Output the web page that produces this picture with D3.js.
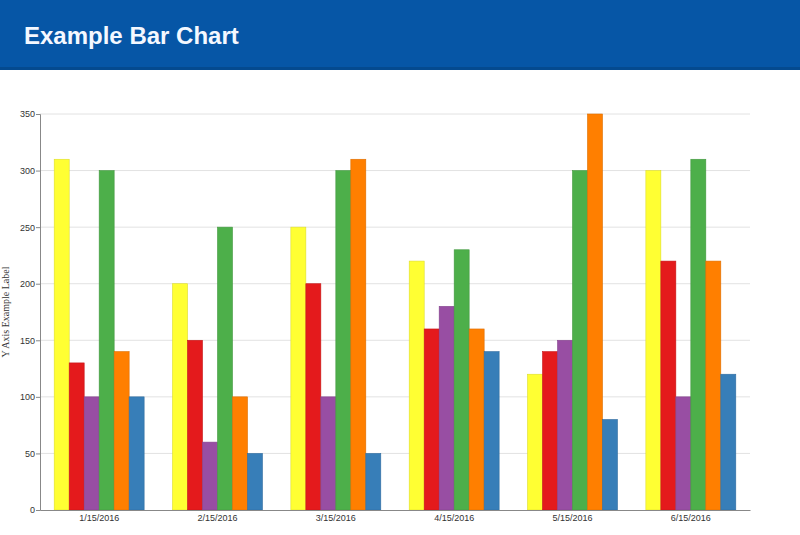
<!DOCTYPE html>
<html>
<head>
<meta charset="utf-8">
<script src="https://cdn.jsdelivr.net/npm/d3@7"></script>
<style>
html,body{margin:0;padding:0;background:#fff;}
svg{display:block;}
</style>
</head>
<body>
<script>
const categories = ["1/15/2016","2/15/2016","3/15/2016","4/15/2016","5/15/2016","6/15/2016"];
const seriesNames = ["Yellow","Red","Purple","Green","Orange","Blue"];
const seriesColors = ["#ffff33","#e41a1c","#984ea3","#4daf4a","#ff7f00","#377eb8"];
const yellowValues = [310,200,250,220,120,300];
const redValues    = [130,150,200,160,140,220];
const purpleValues = [100,60,100,180,150,100];
const greenValues  = [300,250,300,230,300,310];
const orangeValues = [140,100,310,160,350,220];
const blueValues   = [100,50,50,140,80,120];
const yTicks = [0,50,100,150,200,250,300,350];
const title = "Example Bar Chart";
const yLabel = "Y Axis Example Label";

const seriesValues = [yellowValues,redValues,purpleValues,greenValues,orangeValues,blueValues];
const W = 800, H = 535;
const svg = d3.select("body").append("svg").attr("width",W).attr("height",H);

// header
svg.append("rect").attr("x",0).attr("y",0).attr("width",W).attr("height",70).attr("fill","#0656a6");
svg.append("rect").attr("x",0).attr("y",67).attr("width",W).attr("height",3).attr("fill","#044a8f");
svg.append("text").attr("x",24).attr("y",44).text(title)
  .attr("fill","#f4f8ff").attr("font-family","Liberation Sans, Arial, sans-serif")
  .attr("font-weight","bold").attr("font-size",24);

const m = {left:40, right:50, top:114, bottom:25};
const x0 = d3.scaleBand().domain(categories).range([m.left, W - m.right]).paddingInner(0.24).paddingOuter(0.12);
const x1 = d3.scaleBand().domain(seriesNames).range([0, x0.bandwidth()]);
const y = d3.scaleLinear().domain([0,350]).range([H - m.bottom, m.top]);

// grid
svg.append("g").selectAll("line").data(yTicks.filter(d=>d>0)).join("line")
  .attr("x1",m.left).attr("x2",W-m.right)
  .attr("y1",d=>y(d)).attr("y2",d=>y(d))
  .attr("stroke","#e2e2e2").attr("stroke-width",1);

// bars
const g = svg.append("g");
categories.forEach((c,ci)=>{
  seriesNames.forEach((s,si)=>{
    const v = seriesValues[si][ci];
    g.append("rect")
      .attr("x", x0(c) + x1(s))
      .attr("y", y(v))
      .attr("width", x1.bandwidth())
      .attr("height", y(0) - y(v))
      .attr("fill", seriesColors[si])
      .attr("stroke", d3.color(seriesColors[si]).darker(0.4))
      .attr("stroke-width", 0.6);
  });
});

// y axis
const yAxis = svg.append("g").attr("transform",`translate(${m.left},0)`)
  .call(d3.axisLeft(y).tickValues(yTicks).tickSize(4).tickSizeOuter(4));
yAxis.select(".domain").attr("stroke","#888");
yAxis.selectAll(".tick line").attr("stroke","#888");
yAxis.selectAll("text").attr("font-family","Liberation Sans, Arial, sans-serif").attr("font-size",9).attr("fill","#333").attr("x",-5);

// x axis
const xAxis = svg.append("g").attr("transform",`translate(0,${y(0)})`)
  .call(d3.axisBottom(x0).tickSize(0).tickSizeOuter(0));
xAxis.select(".domain").attr("stroke","#888").attr("stroke-width",1.2);
xAxis.selectAll("text").attr("font-family","Liberation Sans, Arial, sans-serif").attr("font-size",9).attr("fill","#333").attr("dy","0.9em");

// y label
svg.append("text").attr("transform",`translate(9,${(y(0)+y(350))/2 - 0}) rotate(-90)`)
  .attr("text-anchor","middle").text(yLabel)
  .attr("font-family","Liberation Serif, Times New Roman, serif").attr("font-size",10).attr("fill","#333");
</script>
</body>
</html>
